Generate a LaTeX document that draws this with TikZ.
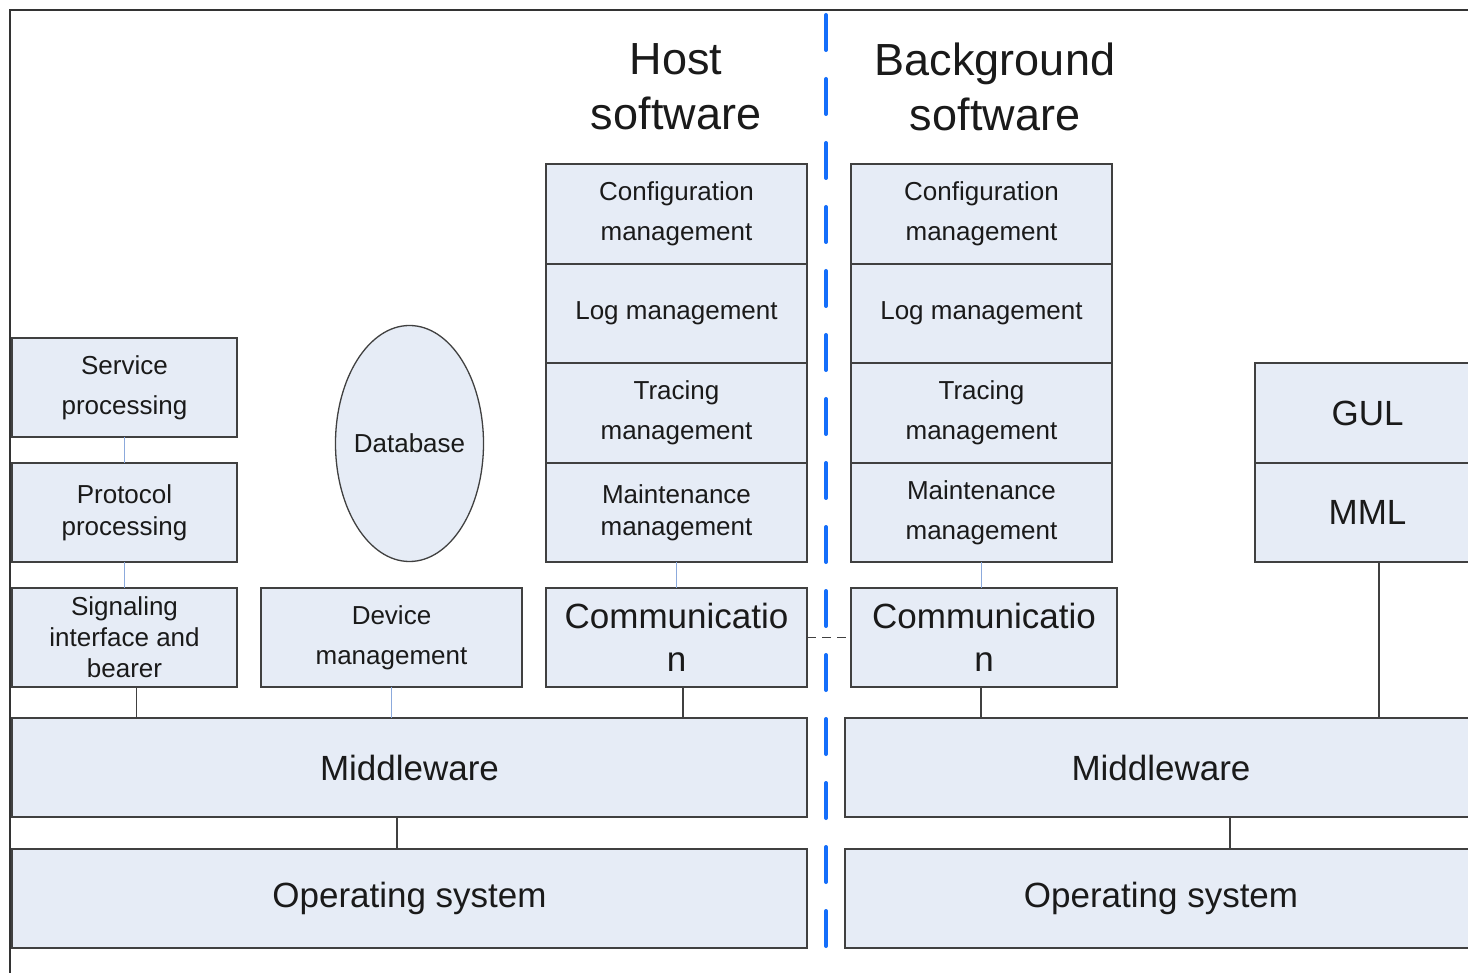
\documentclass[tikz,border=0pt]{standalone}
\usepackage{fontspec}
\setmainfont{Liberation Sans}
\usetikzlibrary{shapes.geometric}
\definecolor{boxfill}{RGB}{230,236,246}
\definecolor{boxline}{RGB}{64,64,64}
\definecolor{linkblue}{RGB}{140,170,220}
\definecolor{divblue}{RGB}{20,110,250}
\definecolor{txt}{RGB}{26,26,26}
\tikzset{
  box/.style={draw=boxline, line width=1.8pt, fill=boxfill, rectangle,
    inner sep=0pt, outer sep=0pt, align=center, text=txt},
  small/.style={font=\fontsize{26}{40}\selectfont},
  tight/.style={font=\fontsize{26}{32}\selectfont},
  big/.style={font=\fontsize{35}{43}\selectfont},
  title/.style={align=center, text=txt, font=\fontsize{45}{55}\selectfont},
  lk/.style={draw=linkblue, line width=1.6pt},
  dk/.style={draw=boxline, line width=1.6pt},
}
\begin{document}
\begin{tikzpicture}[x={(1pt,0)}, y={(0,-1pt)}]
\useasboundingbox (0,0) rectangle (1468,973);
\clip (0,0) rectangle (1468,973);
\fill[white] (0,0) rectangle (1468,973);
% outer frame
\draw[draw=black!80, line width=2.5pt] (10,980) -- (10,10) -- (1480,10);

% left-hand protocol stack
\node[box, small, minimum width=225pt, minimum height=99pt] (svc) at (124.5,387.5) {Service\\processing};
\node[box, tight, minimum width=225pt, minimum height=99pt] (proto) at (124.5,512.5) {Protocol\\processing};
\node[box, font=\fontsize{26}{31}\selectfont, minimum width=225pt, minimum height=99pt] (sig) at (124.5,637.5) {Signaling\\interface and\\bearer};
\node[box, small, minimum width=261pt, minimum height=99pt] (dev) at (391.5,637.5) {Device\\management};
\node[box, ellipse, line width=1.3pt, minimum width=148pt, minimum height=236pt,
  label={[small, text=txt]center:Database}] (db) at (409.5,443.5) {};

% host software column
\node[box, small, minimum width=261pt, minimum height=100pt] (hcfg) at (676.5,214) {Configuration\\management};
\node[box, small, minimum width=261pt, minimum height=99pt] (hlog) at (676.5,313.5) {Log management};
\node[box, small, minimum width=261pt, minimum height=100pt] (htrc) at (676.5,413) {Tracing\\management};
\node[box, tight, minimum width=261pt, minimum height=99pt] (hmnt) at (676.5,512.5) {Maintenance\\management};
\node[box, big, minimum width=261pt, minimum height=99pt] (hcom) at (676.5,637.5) {Communicatio\\n};

% background software column
\node[box, small, minimum width=261pt, minimum height=100pt] (bcfg) at (981.5,214) {Configuration\\management};
\node[box, small, minimum width=261pt, minimum height=99pt] (blog) at (981.5,313.5) {Log management};
\node[box, small, minimum width=261pt, minimum height=100pt] (btrc) at (981.5,413) {Tracing\\management};
\node[box, small, minimum width=261pt, minimum height=99pt] (bmnt) at (981.5,512.5) {Maintenance\\management};
\node[box, big, minimum width=266pt, minimum height=99pt] (bcom) at (984,637.5) {Communicatio\\n};

% operator interface
\node[box, big, minimum width=225pt, minimum height=100pt] (gul) at (1367.5,413) {GUL};
\node[box, big, minimum width=225pt, minimum height=99pt] (mml) at (1367.5,512.5) {MML};

% base layers
\node[box, big, minimum width=795pt, minimum height=99pt] (mwl) at (409.5,767.5) {Middleware};
\node[box, big, minimum width=632pt, minimum height=99pt] (mwr) at (1161,767.5) {Middleware};
\node[box, big, minimum width=795pt, minimum height=99pt] (osl) at (409.5,898.5) {Operating system};
\node[box, big, minimum width=632pt, minimum height=99pt] (osr) at (1161,898.5) {Operating system};

% titles
\node[title] (host) at (676,86.5) {Host\\software};
\node[title] (back) at (995,86.5) {Background\\software};

% connectors
\draw[lk] (svc.south) -- (proto.north);
\draw[lk] (proto.south) -- (sig.north);
\draw[dk] ([xshift=12pt]sig.south) -- ([xshift=12pt]sig.south |- mwl.north);
\draw[lk] (dev.south) -- (dev.south |- mwl.north);
\draw[lk] (hmnt.south) -- (hcom.north);
\draw[dk] ([xshift=6.5pt]hcom.south) -- ([xshift=6.5pt]hcom.south |- mwl.north);
\draw[dk] ([xshift=-12.5pt]mwl.south) -- ([xshift=-12.5pt]mwl.south |- osl.north);
\draw[lk] (bmnt.south) -- (bmnt.south |- bcom.north);
\draw[dk] ([xshift=-3pt]bcom.south) -- ([xshift=-3pt]bcom.south |- mwr.north);
\draw[dk] ([xshift=11.5pt]mml.south) -- ([xshift=11.5pt]mml.south |- mwr.north);
\draw[dk] ([xshift=69pt]mwr.south) -- ([xshift=69pt]mwr.south |- osr.north);
\draw[dk, dash pattern=on 9pt off 6pt] (hcom.east) -- (bcom.west);

% host / background divider
\draw[divblue, line width=4pt, line cap=round, dash pattern=on 35pt off 29pt] (826,15) -- (826,990);
\end{tikzpicture}
\end{document}
